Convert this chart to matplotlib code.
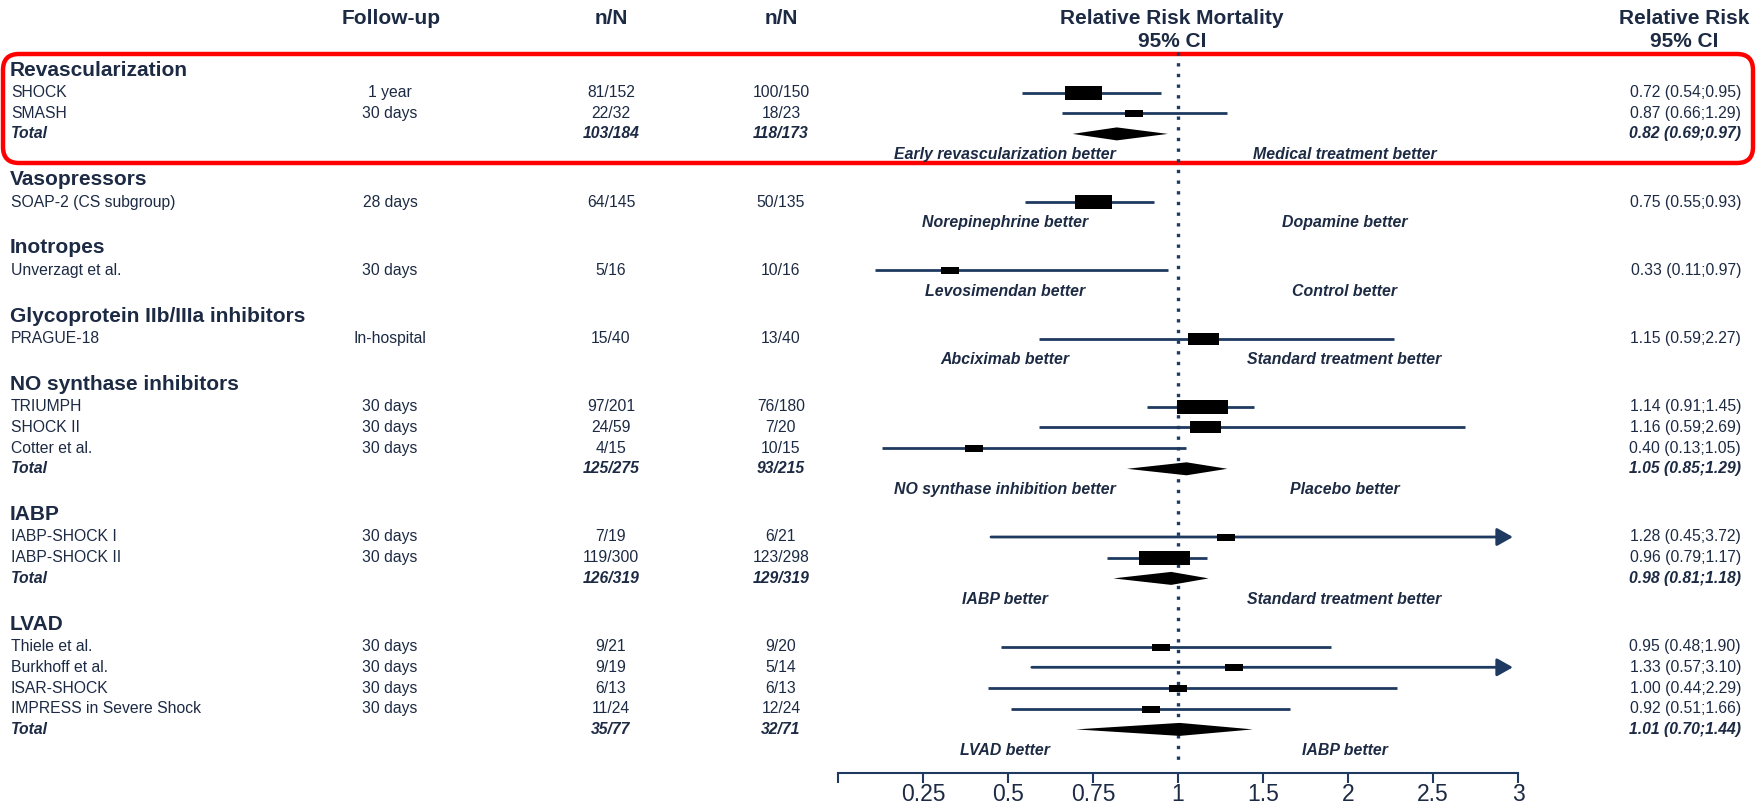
import numpy as np
import matplotlib
matplotlib.use("Agg")
import matplotlib.pyplot as plt
from matplotlib.patches import FancyBboxPatch
from matplotlib.path import Path

plt.rcParams['font.family'] = ['Liberation Sans', 'DejaVu Sans']

# ---- data ----
group_names = ["Revascularization", "Vasopressors", "Inotropes",
               "Glycoprotein IIb/IIIa inhibitors", "NO synthase inhibitors",
               "IABP", "LVAD"]
favor_left = ["Early revascularization better", "Norepinephrine better",
              "Levosimendan better", "Abciximab better",
              "NO synthase inhibition better", "IABP better", "LVAD better"]
favor_right = ["Medical treatment better", "Dopamine better", "Control better",
               "Standard treatment better", "Placebo better",
               "Standard treatment better", "IABP better"]

study_group = [0, 0, 1, 2, 3, 4, 4, 4, 5, 5, 6, 6, 6, 6]
study_names = ["SHOCK", "SMASH", "SOAP-2 (CS subgroup)", "Unverzagt et al.",
               "PRAGUE-18", "TRIUMPH", "SHOCK II", "Cotter et al.",
               "IABP-SHOCK I", "IABP-SHOCK II", "Thiele et al.",
               "Burkhoff et al.", "ISAR-SHOCK", "IMPRESS in Severe Shock"]
follow_up = ["1 year", "30 days", "28 days", "30 days", "In-hospital",
             "30 days", "30 days", "30 days", "30 days", "30 days",
             "30 days", "30 days", "30 days", "30 days"]
events_a = ["81/152", "22/32", "64/145", "5/16", "15/40", "97/201", "24/59",
            "4/15", "7/19", "119/300", "9/21", "9/19", "6/13", "11/24"]
events_b = ["100/150", "18/23", "50/135", "10/16", "13/40", "76/180", "7/20",
            "10/15", "6/21", "123/298", "9/20", "5/14", "6/13", "12/24"]
rr = [0.72, 0.87, 0.75, 0.33, 1.15, 1.14, 1.16, 0.40, 1.28, 0.96,
      0.95, 1.33, 1.00, 0.92]
rr_lo = [0.54, 0.66, 0.55, 0.11, 0.59, 0.91, 0.59, 0.13, 0.45, 0.79,
         0.48, 0.57, 0.44, 0.51]
rr_hi = [0.95, 1.29, 0.93, 0.97, 2.27, 1.45, 2.69, 1.05, 3.72, 1.17,
         1.90, 3.10, 2.29, 1.66]
weight_class = [2, 0, 2, 0, 1, 3, 1, 0, 0, 3, 0, 0, 0, 0]

total_group = [0, 4, 5, 6]
total_a = ["103/184", "125/275", "126/319", "35/77"]
total_b = ["118/173", "93/215", "129/319", "32/71"]
total_rr = [0.82, 1.05, 0.98, 1.01]
total_lo = [0.69, 0.85, 0.81, 0.70]
total_hi = [0.97, 1.29, 1.18, 1.44]

xticks = [0, 0.25, 0.5, 0.75, 1, 1.5, 2, 2.5, 3]
xticklabels = ["", "0.25", "0.5", "0.75", "1", "1.5", "2", "2.5", "3"]

# ---- style ----
TXT = "#1c2a43"
LINE = "#1f3a60"
box_px = {0: (18, 7), 1: (31, 12), 2: (37, 14), 3: (51, 14)}

# axis drawn with unequal steps below / above 1
def fwd(x):
    x = np.asarray(x, dtype=float)
    return np.where(x <= 1, x * 4, 4 + (x - 1) * 2)

def inv(u):
    u = np.asarray(u, dtype=float)
    return np.where(u <= 4, u / 4, 1 + (u - 4) / 2)

W, H = 1758, 809
fig = plt.figure(figsize=(W / 100, H / 100), dpi=100)
bg = fig.add_axes([0, 0, 1, 1])
bg.set_xlim(0, W)
bg.set_ylim(H, 0)
bg.axis('off')

X0, X1 = 838, 1518
ax = fig.add_axes([X0 / W, 0, (X1 - X0) / W, 1])
ax.set_xscale('function', functions=(fwd, inv))
ax.set_xlim(0, 3)
ax.set_ylim(H, 0)
ax.patch.set_visible(False)

# column x positions (px)
C_NAME, C_FU, C_A, C_B, C_RR = 11, 390, 611, 781, 1741
AX_Y = 773

hdr = dict(fontsize=15, fontweight='bold', color=TXT, ha='center', va='center')
bg.text(391, 18, "Follow-up", **hdr)
bg.text(C_A, 18, "n/N", **hdr)
bg.text(C_B, 18, "n/N", **hdr)
bg.text(1172, 18, "Relative Risk Mortality", **hdr)
bg.text(1172, 41, "95% CI", **hdr)
bg.text(1684, 18, "Relative Risk", **hdr)
bg.text(1684, 41, "95% CI", **hdr)

reg = dict(fontsize=11.3, color=TXT, va='center')
bld = dict(fontsize=11.3, color=TXT, va='center', fontweight='bold', style='italic')

def ci_text(e, lo, hi):
    return f"{e:.2f} ({lo:.2f};{hi:.2f})"

y = 70
for g, gname in enumerate(group_names):
    bg.text(C_NAME - 1, y, gname, fontsize=15, fontweight='bold', color=TXT, va='center')
    y += 22.5
    for i in [k for k, sg in enumerate(study_group) if sg == g]:
        bg.text(C_NAME, y, study_names[i], ha='left', **reg)
        bg.text(C_FU, y, follow_up[i], ha='center', **reg)
        bg.text(C_A, y, events_a[i], ha='center', **reg)
        bg.text(C_B, y, events_b[i], ha='center', **reg)
        bg.text(C_RR, y, ci_text(rr[i], rr_lo[i], rr_hi[i]), ha='right', **reg)
        if rr_hi[i] > 3:
            ax.annotate('', xy=(2.97, y), xytext=(rr_lo[i], y),
                        arrowprops=dict(arrowstyle='-|>,head_length=0.8,head_width=0.45',
                                        color=LINE, lw=2, shrinkA=0, shrinkB=0,
                                        mutation_scale=12))
        else:
            ax.plot([rr_lo[i], rr_hi[i]], [y, y], color=LINE, lw=2, solid_capstyle='butt')
        bw, bh = box_px[weight_class[i]]
        r = bh / bw
        mk = Path([(-1, -r), (1, -r), (1, r), (-1, r), (-1, -r)],
                  [Path.MOVETO, Path.LINETO, Path.LINETO, Path.LINETO, Path.CLOSEPOLY])
        ax.plot([rr[i]], [y], marker=mk, markersize=bw * 0.72, color='black',
                markeredgewidth=0, zorder=3)
        y += 20.7
    if g in total_group:
        t = total_group.index(g)
        bg.text(C_NAME, y, "Total", ha='left', **bld)
        bg.text(C_A, y, total_a[t], ha='center', **bld)
        bg.text(C_B, y, total_b[t], ha='center', **bld)
        bg.text(C_RR, y, ci_text(total_rr[t], total_lo[t], total_hi[t]), ha='right', **bld)
        ax.fill([total_lo[t], total_rr[t], total_hi[t], total_rr[t]],
                [y, y - 6.5, y, y + 6.5], color='black', lw=0, zorder=3)
        y += 20.7
    ax.text(0.49, y, favor_left[g], ha='center', va='center', fontsize=11.4,
            fontweight='bold', style='italic', color=TXT)
    ax.text(1.98, y, favor_right[g], ha='center', va='center', fontsize=11.4,
            fontweight='bold', style='italic', color=TXT)
    y += 25

# line of no effect
ax.plot([1, 1], [52, 766], color=LINE, lw=2.4, linestyle=(0, (1, 2.2)), zorder=1)

# bottom axis
for s in ['left', 'top', 'right']:
    ax.spines[s].set_visible(False)
ax.spines['bottom'].set_position(('data', AX_Y))
ax.spines['bottom'].set_color(LINE)
ax.spines['bottom'].set_linewidth(1.5)
ax.set_yticks([])
ax.set_xticks(xticks)
ax.set_xticklabels(xticklabels)
ax.tick_params(axis='x', direction='out', length=7, width=1.5, color=LINE,
               labelcolor=TXT, labelsize=16.5, pad=0)

# highlight box around the first group
bg.add_patch(FancyBboxPatch((3, 54), 1750, 109,
                            boxstyle='round,pad=0,rounding_size=16',
                            fc='none', ec='#ff0000', lw=3.2))

fig.savefig("out.png", dpi=100)
